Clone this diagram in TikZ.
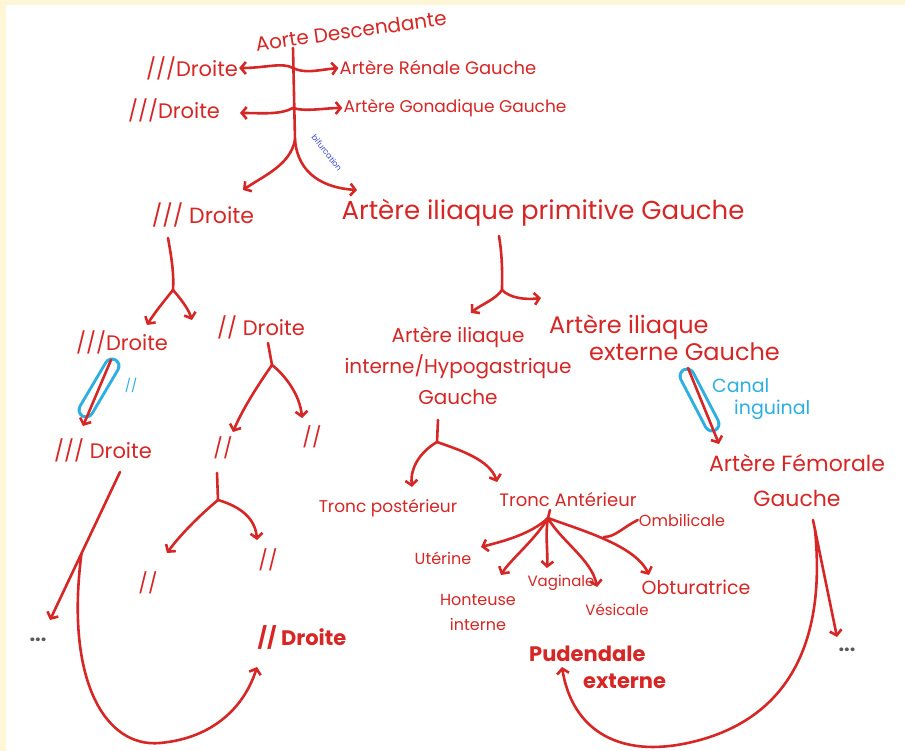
\documentclass[tikz,border=0pt]{standalone}
\usepackage{fontspec}
\setmainfont{Poppins}
\usetikzlibrary{arrows.meta,calc}
\definecolor{ink}{RGB}{214,38,38}
\definecolor{cyanink}{RGB}{45,175,225}
\definecolor{blueink}{RGB}{55,75,205}
\definecolor{cream}{RGB}{255,245,215}
\definecolor{dotgray}{RGB}{90,90,90}
\newcommand\fsz[2]{\fontsize{#1}{#2}\selectfont}
\begin{document}
\begin{tikzpicture}[x=1pt,y=-1pt,
  lbl/.style={text=ink, inner sep=1pt, align=center},
  ln/.style={draw=ink, line width=2.6pt, line cap=round},
  arr/.style={ln, -{Straight Barb[length=5pt,width=12pt]}},
  capsule/.style={draw=cyanink, line width=17pt, line cap=round},
  capsulein/.style={draw=white, line width=11pt, line cap=round}]
\useasboundingbox (0,0) rectangle (905,751);
\fill[cream] (0,0) rectangle (905,751);
\fill[white] (6,5) rectangle (905,751);

% ---- top: aorta ----
\node[lbl, font=\fsz{20}{24}, rotate=8] (aorte) at (351,31) {Aorte Descendante};
\node[lbl, font=\fsz{21}{26}] (d1) at (192,68) {///Droite};
\node[lbl, font=\fsz{18}{22}] (ren) at (438,68) {Artère Rénale Gauche};
\node[lbl, font=\fsz{21}{26}] (d2) at (174,110) {///Droite};
\node[lbl, font=\fsz{17}{22}] (gon) at (455,108) {Artère Gonadique Gauche};
\coordinate (t0) at (293,48);
\coordinate (j1) at (293,68);
\coordinate (j2) at (293,108);
\coordinate (j3) at (295,140);
\coordinate (a2L) at (240,113);
\coordinate (tL) at (243,190);
\coordinate (tR) at (357,190);
\draw[ln] (t0) -- (j3);
\draw[arr] (j1) .. controls (282,62) and (266,68) .. (d1.east);
\draw[arr] (j1) .. controls (305,74) and (318,70) .. (ren.west);
\draw[arr] (j2) .. controls (280,115) and (262,113) .. (a2L);
\draw[arr] (j2) .. controls (305,112) and (325,108) .. (gon.west);
\draw[arr] (j3) .. controls (290,165) and (265,175) .. (tL);
\draw[arr] (j3) .. controls (298,175) and (325,188) .. (tR);
\node[text=blueink, font=\fsz{8}{9}, rotate=-52, inner sep=0pt] (bif) at (327,153) {bifurcation};

% ---- level 2 ----
\node[lbl, font=\fsz{22}{26}] (d3) at (203,215) {/// Droite};
\node[lbl, font=\fsz{26}{30}] (prim) at (543,213) {Artère iliaque primitive Gauche};
\coordinate (b3top) at (168,238);
\coordinate (s3) at (173,290);
\coordinate (b3L) at (147,325);
\coordinate (b3R) at (192,320);
\draw[ln] (b3top) .. controls (172,260) and (174,275) .. (s3);
\draw[arr] (s3) .. controls (165,300) and (155,312) .. (b3L);
\draw[arr] (s3) .. controls (180,298) and (188,308) .. (b3R);
\coordinate (b4top) at (499,236);
\coordinate (s4) at (502,290);
\coordinate (b4L) at (471,313);
\coordinate (b4R) at (541,298);
\draw[ln] (b4top) .. controls (503,260) and (502,280) .. (s4);
\draw[arr] (s4) .. controls (495,300) and (480,305) .. (b4L);
\draw[arr] (s4) .. controls (510,298) and (525,300) .. (b4R);

% ---- level 3 ----
\node[lbl, font=\fsz{21}{26}] (d4) at (122,342) {///Droite};
\node[lbl, font=\fsz{21}{26}] (d5) at (261,327) {// Droite};
\node[lbl, font=\fsz{20}{31}] (hyp) at (458,366) {Artère iliaque\\interne/Hypogastrique\\Gauche};
\node[lbl, font=\fsz{24}{27}, align=left, anchor=west] (ext) at (548,338) {Artère iliaque\\\hspace{40pt}externe Gauche};

% capsule 1
\coordinate (cp1a) at (112,366);
\coordinate (cp1b) at (86,410);
\draw[capsule] (cp1a) -- (cp1b);
\draw[capsulein] (cp1a) -- (cp1b);
\coordinate (c1s) at (111,360);
\coordinate (c1e) at (83,426);
\draw[arr] (c1s) -- (c1e);
\node[text=cyanink, font=\fsz{13}{15}, inner sep=0pt] (bsl) at (131,385) {//};

% d5 branch
\coordinate (b5top) at (268,343);
\coordinate (s5) at (272,365);
\coordinate (b5L) at (233,432);
\coordinate (b5R) at (302,418);
\draw[ln] (b5top) -- (s5);
\draw[arr] (s5) .. controls (258,385) and (242,410) .. (b5L);
\draw[arr] (s5) .. controls (285,375) and (300,395) .. (b5R);
\node[lbl, font=\fsz{20}{24}] (sl1) at (223,448) {//};
\node[lbl, font=\fsz{20}{24}] (sl2) at (312,437) {//};
\node[lbl, font=\fsz{21}{26}] (d6) at (103,450) {/// Droite};

% sl1 branch
\coordinate (b6top) at (217,473);
\coordinate (s6) at (218,500);
\coordinate (b6L) at (167,553);
\coordinate (b6R) at (257,540);
\draw[ln] (b6top) -- (s6);
\draw[arr] (s6) .. controls (200,515) and (180,535) .. (b6L);
\draw[arr] (s6) .. controls (235,505) and (255,515) .. (b6R);
\node[lbl, font=\fsz{20}{24}] (sl3) at (148,583) {//};
\node[lbl, font=\fsz{20}{24}] (sl4) at (268,560) {//};
\node[lbl, font=\bfseries\fsz{21}{26}] (d7) at (302,637) {// Droite};

% d6 arrow + loop
\coordinate (c6s) at (120,472);
\coordinate (c6e) at (50,620);
\draw[arr] (c6s) -- (c6e);
\node[text=dotgray, font=\bfseries\fsz{20}{22}, inner sep=0pt] (dots1) at (38,640) {...};
\coordinate (lp1) at ($(c6s)!0.55!(c6e)$);
\coordinate (lp1e) at (257,667);
\draw[arr] (lp1) .. controls (65,680) and (105,748) .. (160,743) .. controls (215,738) and (245,705) .. (lp1e);

% hypogastric branch
\coordinate (b7top) at (438,420);
\coordinate (s7) at (437,442);
\coordinate (b7L) at (412,487);
\coordinate (b7R) at (497,482);
\draw[ln] (b7top) -- (s7);
\draw[arr] (s7) .. controls (420,452) and (410,468) .. (b7L);
\draw[arr] (s7) .. controls (460,450) and (490,460) .. (b7R);
\node[lbl, font=\fsz{17}{20}] (trp) at (388,508) {Tronc postérieur};
\node[lbl, font=\fsz{18}{21}] (tra) at (568,500) {Tronc Antérieur};

% anterior trunk branches
\coordinate (o8top) at (550,510);
\coordinate (o8) at (548,518);
\coordinate (tU) at (481,547);
\coordinate (tH) at (501,575);
\coordinate (tV) at (547,568);
\coordinate (tVe) at (597,587);
\coordinate (tO) at (649,575);
\coordinate (om0) at (604,537);
\draw[ln] (o8top) -- (o8);
\draw[arr] (o8) .. controls (530,535) and (500,542) .. (tU);
\draw[arr] (o8) .. controls (535,540) and (510,560) .. (tH);
\draw[arr] (o8) .. controls (545,535) and (548,550) .. (tV);
\draw[arr] (o8) .. controls (560,540) and (592,560) .. (tVe);
\draw[arr] (o8) .. controls (580,530) and (635,545) .. (tO);
\node[lbl, font=\fsz{16}{19}] (omb) at (682,520) {Ombilicale};
\draw[ln] (om0) .. controls (615,537) and (622,528) .. (omb.west);
\node[lbl, font=\fsz{16}{19}] (utr) at (443,558) {Utérine};
\node[lbl, font=\fsz{16}{25}] (hont) at (478,612) {Honteuse\\interne};
\node[lbl, font=\fsz{15}{18}] (vag) at (561,583) {Vaginale};
\node[lbl, font=\fsz{15}{18}] (ves) at (617,610) {Vésicale};
\node[lbl, font=\fsz{19}{22}] (obt) at (696,587) {Obturatrice};
\node[lbl, font=\bfseries\fsz{21}{27}, align=left, anchor=west] (pud) at (528,667) {Pudendale\\\hspace{54pt}externe};

% external iliac -> femoral
\coordinate (cp2a) at (687,376);
\coordinate (cp2b) at (712,424);
\draw[capsule] (cp2a) -- (cp2b);
\draw[capsulein] (cp2a) -- (cp2b);
\coordinate (c2s) at (688,368);
\coordinate (c2e) at (719,444);
\draw[arr] (c2s) -- (c2e);
\node[text=cyanink, font=\fsz{19}{22}, align=left, anchor=west, inner sep=1pt] (can) at (711,399) {Canal\\\hspace{22pt}inguinal};
\node[lbl, font=\fsz{22}{35}] (fem) at (797,480) {Artère Fémorale\\Gauche};
\coordinate (c9s) at (813,520);
\coordinate (c9e) at (837,637);
\draw[arr] (c9s) -- (c9e);
\node[text=dotgray, font=\bfseries\fsz{20}{22}, inner sep=0pt] (dots2) at (847,650) {...};
\coordinate (l2s) at (815,530);
\coordinate (l2e) at (562,667);
\draw[arr] (l2s) .. controls (826,640) and (790,715) .. (700,740) .. controls (620,762) and (572,730) .. (l2e);
\end{tikzpicture}
\end{document}
